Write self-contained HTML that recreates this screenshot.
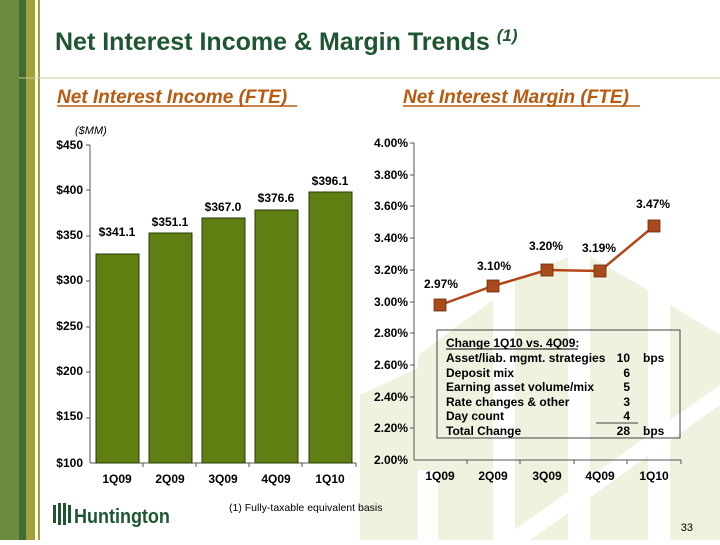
<!DOCTYPE html>
<html><head><meta charset="utf-8"><style>
body{margin:0;width:720px;height:540px;overflow:hidden;background:#fff;font-family:"Liberation Sans",Arial,sans-serif}
</style></head><body>
<svg width="720" height="540" xmlns="http://www.w3.org/2000/svg" font-family="Liberation Sans, Arial, sans-serif">
<!-- watermark -->
<g fill="#eef2de">
<polygon points="360,395 418,368 418,540 360,540"/>
<polygon points="418,355 493,300 493,540 418,540"/>
<polygon points="515,280 568,257 568,540 515,540"/>
<polygon points="590,257 648,290 648,540 590,540"/>
<polygon points="670,305 720,335 720,540 670,540"/>
</g>
<g fill="#fff">
<polygon points="500,540 720,385 720,405 530,540"/>
<rect x="418" y="470" width="20" height="70"/>
</g>
<!-- sidebar -->
<rect x="0" y="0" width="19" height="540" fill="#6b8c3d"/>
<rect x="19" y="0" width="7" height="540" fill="#3e6b3a"/>
<rect x="26" y="0" width="9" height="540" fill="#a3a13e"/>
<rect x="38" y="0" width="2" height="540" fill="#a3a13e"/>
<line x1="19" y1="78" x2="720" y2="78" stroke="#c8cf9a" stroke-width="1"/>
<!-- title -->
<text x="55" y="50" font-size="25" font-weight="bold" fill="#1e5631">Net Interest Income &amp; Margin Trends <tspan font-style="italic" font-size="17" dy="-9">(1)</tspan></text>
<text x="57" y="103" font-size="19" font-weight="bold" font-style="italic" fill="#b85b10">Net Interest Income (FTE)</text>
<line x1="57" y1="106" x2="297" y2="106" stroke="#b85b10" stroke-width="1.5"/>
<text x="403" y="103" font-size="19" font-weight="bold" font-style="italic" fill="#b85b10">Net Interest Margin (FTE)</text>
<line x1="403" y1="106" x2="640" y2="106" stroke="#b85b10" stroke-width="1.5"/>
<!-- left chart -->
<text x="75" y="134" font-size="11" font-style="italic" fill="#000">($MM)</text>
<g font-size="12" font-weight="bold" text-anchor="end" fill="#000">
<text x="83" y="149">$450</text><text x="83" y="194">$400</text><text x="83" y="239">$350</text>
<text x="83" y="284">$300</text><text x="83" y="330">$250</text><text x="83" y="375">$200</text>
<text x="83" y="420">$150</text><text x="83" y="467">$100</text>
</g>
<g stroke="#555" stroke-width="1">
<line x1="90" y1="145" x2="90" y2="463"/><line x1="90" y1="463" x2="356" y2="463"/>
<line x1="86" y1="145" x2="90" y2="145"/><line x1="86" y1="190" x2="90" y2="190"/><line x1="86" y1="236" x2="90" y2="236"/>
<line x1="86" y1="281" x2="90" y2="281"/><line x1="86" y1="327" x2="90" y2="327"/><line x1="86" y1="372" x2="90" y2="372"/>
<line x1="86" y1="418" x2="90" y2="418"/>
<line x1="143" y1="463" x2="143" y2="467"/><line x1="196" y1="463" x2="196" y2="467"/><line x1="249" y1="463" x2="249" y2="467"/><line x1="302" y1="463" x2="302" y2="467"/><line x1="356" y1="463" x2="356" y2="467"/>
</g>
<g fill="#5f7f12" stroke="#2a3a08" stroke-width="1">
<rect x="96" y="254" width="43" height="209"/>
<rect x="149" y="233" width="43" height="230"/>
<rect x="202" y="218" width="43" height="245"/>
<rect x="255" y="210" width="43" height="253"/>
<rect x="309" y="192" width="43" height="271"/>
</g>
<g font-size="12" font-weight="bold" text-anchor="middle" fill="#000">
<text x="117" y="236">$341.1</text><text x="170" y="226">$351.1</text><text x="223" y="211">$367.0</text>
<text x="276" y="202">$376.6</text><text x="330" y="185">$396.1</text>
<text x="117" y="483">1Q09</text><text x="170" y="483">2Q09</text><text x="223" y="483">3Q09</text>
<text x="276" y="483">4Q09</text><text x="330" y="483">1Q10</text>
</g>
<!-- right chart -->
<g font-size="12" font-weight="bold" text-anchor="end" fill="#000">
<text x="408" y="147">4.00%</text><text x="408" y="179">3.80%</text><text x="408" y="210">3.60%</text>
<text x="408" y="242">3.40%</text><text x="408" y="274">3.20%</text><text x="408" y="306">3.00%</text>
<text x="408" y="337">2.80%</text><text x="408" y="369">2.60%</text><text x="408" y="401">2.40%</text>
<text x="408" y="432">2.20%</text><text x="408" y="464">2.00%</text>
</g>
<g stroke="#555" stroke-width="1">
<line x1="414" y1="143" x2="414" y2="460"/><line x1="414" y1="460" x2="681" y2="460"/>
<line x1="467" y1="460" x2="467" y2="464"/><line x1="520" y1="460" x2="520" y2="464"/><line x1="574" y1="460" x2="574" y2="464"/><line x1="627" y1="460" x2="627" y2="464"/><line x1="681" y1="460" x2="681" y2="464"/>
<line x1="410" y1="143" x2="414" y2="143"/><line x1="410" y1="175" x2="414" y2="175"/><line x1="410" y1="206" x2="414" y2="206"/><line x1="410" y1="238" x2="414" y2="238"/><line x1="410" y1="270" x2="414" y2="270"/><line x1="410" y1="302" x2="414" y2="302"/><line x1="410" y1="333" x2="414" y2="333"/><line x1="410" y1="365" x2="414" y2="365"/><line x1="410" y1="397" x2="414" y2="397"/><line x1="410" y1="428" x2="414" y2="428"/>
</g>
<polyline points="440,305 493,286 547,270 600,271 654,226" fill="none" stroke="#b5461a" stroke-width="2.5"/>
<g fill="#a94a1d" stroke="#6b2a0c" stroke-width="0.8">
<rect x="434" y="299" width="12" height="12"/><rect x="487" y="280" width="12" height="12"/>
<rect x="541" y="264" width="12" height="12"/><rect x="594" y="265" width="12" height="12"/>
<rect x="648" y="220" width="12" height="12"/>
</g>
<g font-size="12" font-weight="bold" text-anchor="middle" fill="#000">
<text x="441" y="288">2.97%</text><text x="494" y="270">3.10%</text><text x="546" y="250">3.20%</text>
<text x="599" y="252">3.19%</text><text x="653" y="208">3.47%</text>
<text x="440" y="480">1Q09</text><text x="493" y="480">2Q09</text><text x="547" y="480">3Q09</text>
<text x="600" y="480">4Q09</text><text x="654" y="480">1Q10</text>
</g>
<!-- box -->
<rect x="437" y="330" width="243" height="108" fill="none" stroke="#444" stroke-width="1"/>
<g font-size="12" font-weight="bold" fill="#000">
<text x="446" y="347">Change 1Q10  vs. 4Q09:</text>
<text x="446" y="362">Asset/liab. mgmt. strategies</text>
<text x="446" y="377">Deposit mix</text>
<text x="446" y="391">Earning asset volume/mix</text>
<text x="446" y="406">Rate changes &amp; other</text>
<text x="446" y="420">Day count</text>
<text x="446" y="435">Total Change</text>
<g text-anchor="end"><text x="630" y="362">10</text><text x="630" y="377">6</text><text x="630" y="391">5</text><text x="630" y="406">3</text><text x="630" y="420">4</text><text x="630" y="435">28</text></g>
<text x="643" y="362">bps</text><text x="643" y="435">bps</text>
</g>
<line x1="446" y1="349" x2="578" y2="349" stroke="#000" stroke-width="1"/>
<line x1="596" y1="423" x2="638" y2="423" stroke="#444" stroke-width="1"/>
<!-- footer -->
<g fill="#1e5631">
<rect x="53" y="505" width="3" height="18"/><rect x="58" y="503" width="3" height="22"/><rect x="63" y="503" width="3" height="22"/><rect x="68" y="505" width="3" height="18"/>
</g>
<text x="74" y="523" font-size="20" font-weight="bold" fill="#1e5631" transform="translate(74,0) scale(0.9,1) translate(-74,0)">Huntington</text>
<text x="229" y="511" font-size="10.5" fill="#000">(1)  Fully-taxable equivalent basis</text>
<text x="693" y="531" font-size="11" fill="#000" text-anchor="end">33</text>
</svg>
</body></html>
